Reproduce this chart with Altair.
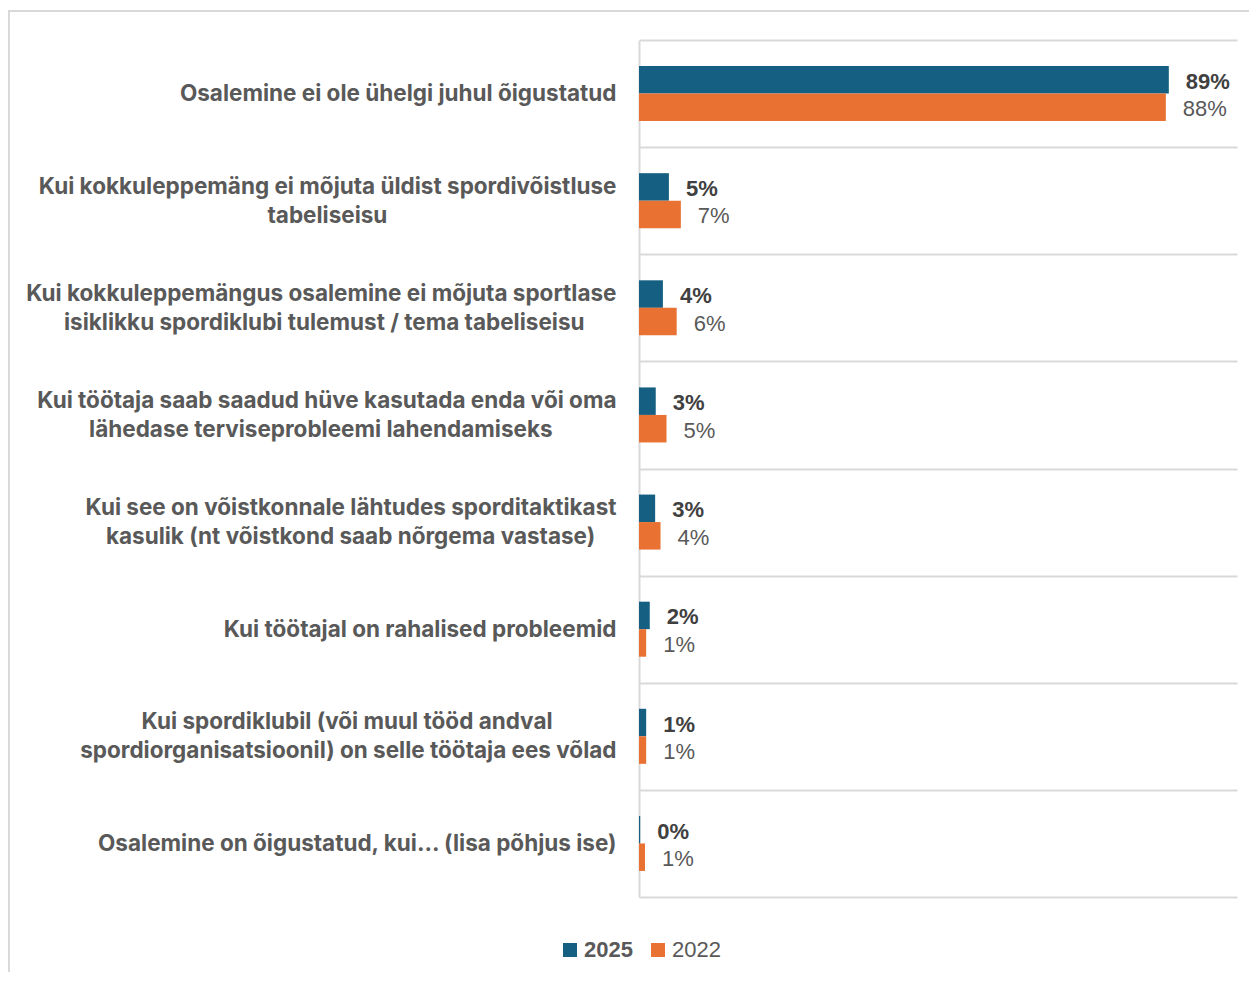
import altair as alt
import pandas as pd

categories = [
    "Osalemine ei ole ühelgi juhul õigustatud",
    "Kui kokkuleppemäng ei mõjuta üldist spordivõistluse\ntabeliseisu",
    "Kui kokkuleppemängus osalemine ei mõjuta sportlase\nisiklikku spordiklubi tulemust / tema tabeliseisu",
    "Kui töötaja saab saadud hüve kasutada enda või oma\nlähedase terviseprobleemi lahendamiseks",
    "Kui see on võistkonnale lähtudes sporditaktikast\nkasulik (nt võistkond saab nõrgema vastase)",
    "Kui töötajal on rahalised probleemid",
    "Kui spordiklubil (või muul tööd andval\nspordiorganisatsioonil) on selle töötaja ees võlad",
    "Osalemine on õigustatud, kui... (lisa põhjus ise)",
]
series = ["2025", "2022"]
values_2025 = [88.6, 5.0, 4.0, 2.8, 2.7, 1.8, 1.2, 0.2]
values_2022 = [88.1, 7.0, 6.3, 4.6, 3.6, 1.2, 1.2, 1.0]
colors = ["#156082", "#E97132"]

rows = []
for c, v in zip(categories, values_2025):
    rows.append({"category": c, "series": "2025", "value": v})
for c, v in zip(categories, values_2022):
    rows.append({"category": c, "series": "2022", "value": v})
df = pd.DataFrame(rows)

label_color = "#595959"
grid_color = "#d9d9d9"

# Multi-line labels: the shorter line is padded at its end with non-breaking
# spaces (closed by a zero-width space so they are not trimmed) so that it
# appears centred under the longer, right-aligned line. Line widths are
# estimated in the expression from character classes.
NB = "\u00a0"
ZW = "\u200b"
L = "split(datum.label, '\\n')"
a = f"{L}[0]"
b = f"{L}[1]"


def cnt(s, cls):
    return f"(length({s}) - length(replace({s}, regexp('{cls}', 'g'), '')))"


def W(s):
    n1 = cnt(s, "[ijlI]")
    n2 = cnt(s, "[frt .,/()]")
    n3 = cnt(s, "[mwMW]")
    return f"(0.26*{n1} + 0.34*{n2} + 0.85*{n3} + 0.57*(length({s}) - {n1} - {n2} - {n3}))"


n_pad = f"round(abs({W(a)} - {W(b)}) * 0.5 * 4.363)"
label_expr = (
    f"length({L}) < 2 ? datum.label : "
    f"({W(a)} >= {W(b)} ? "
    f"[{a}, pad({b}, length({b}) + {n_pad}, '{NB}', 'right') + '{ZW}'] : "
    f"[pad({a}, length({a}) + {n_pad}, '{NB}', 'right') + '{ZW}', {b}])"
)

y_enc = alt.Y(
    "category:N",
    sort=categories,
    scale=alt.Scale(paddingInner=0, paddingOuter=0),
    axis=alt.Axis(
        title=None,
        labelExpr=label_expr,
        tickBand="extent",
        grid=True,
        gridColor=grid_color,
        gridWidth=2,
        ticks=False,
        domain=True,
        domainColor=grid_color,
        domainWidth=2,
        labelFont="Inter",
        labelFontSize=22.5,
        labelFontWeight="bold",
        labelColor=label_color,
        labelPadding=23,
        labelLimit=700,
        labelLineHeight=29,
        labelAlign="right",
        labelBaseline="middle",
        labelOffset={
            "condition": {"test": "indexof(datum.label, '\\n') >= 0", "value": -14.5},
            "value": 0,
        },
    ),
)
yoff = alt.YOffset(
    "series:N",
    sort=series,
    scale=alt.Scale(paddingInner=0, paddingOuter=0.947),
)
x_enc = alt.X("value:Q", scale=alt.Scale(domain=[0, 100]), axis=None)

base = alt.Chart(df).encode(y=y_enc, yOffset=yoff, x=x_enc)

bars = base.mark_bar(cornerRadius=0).encode(
    color=alt.Color(
        "series:N",
        sort=series,
        scale=alt.Scale(domain=series, range=colors),
        legend=alt.Legend(
            title=None,
            orient="none",
            legendX=-80,
            legendY=899,
            direction="horizontal",
            symbolType="square",
            symbolSize=196,
            symbolStrokeWidth=0,
            labelFont="Liberation Sans",
            labelFontSize=22,
            labelColor=label_color,
            labelFontWeight=alt.ExprRef("datum.label == '2025' ? 'bold' : 'normal'"),
            labelOffset=3,
            columnPadding=14,
            padding=0,
        ),
    )
)

text_2025 = (
    base.transform_filter(alt.datum.series == "2025")
    .transform_calculate(lbl="format(datum.value, '.0f') + '%'")
    .mark_text(align="left", baseline="middle", dx=17, dy=2, font="Liberation Sans",
               fontSize=22, fontWeight="bold", color="#404040")
    .encode(text="lbl:N")
)
text_2022 = (
    base.transform_filter(alt.datum.series == "2022")
    .transform_calculate(lbl="format(datum.value, '.0f') + '%'")
    .mark_text(align="left", baseline="middle", dx=17, dy=2, font="Liberation Sans",
               fontSize=22, fontWeight="normal", color=label_color)
    .encode(text="lbl:N")
)

border = alt.Chart(pd.DataFrame({"a": [0]})).mark_rect(
    fill=None, stroke=grid_color, strokeWidth=2
).encode(
    x=alt.value(-630), x2=alt.value(700), y=alt.value(-29), y2=alt.value(1000)
)

chart = (
    alt.layer(border, bars, text_2025, text_2022)
    .properties(
        width=598,
        height=857,
        padding={"left": 631, "top": 32, "right": 12, "bottom": 75},
        autosize=alt.AutoSizeParams(type="none"),
        background="white",
    )
    .configure_view(stroke=None)
)

chart.save("out.html", embed_options={"renderer": "svg", "actions": False})
